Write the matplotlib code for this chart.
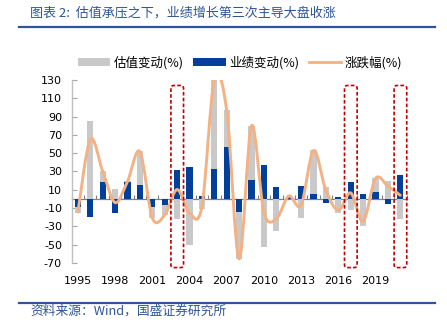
import matplotlib
matplotlib.use("Agg")
import matplotlib.pyplot as plt
from matplotlib.path import Path
from matplotlib.patches import PathPatch, FancyBboxPatch
from matplotlib.lines import Line2D
from matplotlib.patches import Patch
import numpy as np

years = list(range(1995, 2022))
valuation = [-15, 85, 31, 11, 20, 52, -21, -18, -22, -50, -11, 132, 97, -66, 80,
             -52, -35, 1, -21, 53, 13, -15, -12, -30, 23, 20, -22]
earnings = [-9, -20, 18, -15, 18, 15, -9, -7, 32, 35, 3, 33, 57, -14, 21,
            37, 13, 2, 14, 5, -4, 2, 18, 5, 8, -6, 26]
returns = [-14.3, 65.1, 30.2, -4.0, 19.2, 51.7, -20.6, -17.5, 10.3, -15.4, -8.3,
           130.4, 96.7, -65.4, 80.0, -14.3, -21.7, 3.2, -6.7, 52.9, 9.4, -12.3,
           6.6, -24.6, 22.3, 13.9, 4.0]
xtick_years = [1995, 1998, 2001, 2004, 2007, 2010, 2013, 2016, 2019]
yticks = list(range(-70, 131, 20))
highlight_years = [2003, 2017, 2021]

labels = ["估值变动(%)", "业绩变动(%)", "涨跌幅(%)"]
title = "图表 2:  估值承压之下，业绩增长第三次主导大盘收涨"
source = "资料来源：Wind，国盛证券研究所"

C_GREY = "#C9C9C9"
C_BLUE = "#00409A"
C_ORANGE = "#F4B183"
C_RED = "#C00000"
C_HEAD = "#2F5597"
CJK = ["Noto Sans CJK SC", "DejaVu Sans"]

fig = plt.figure(figsize=(4.47, 3.33), dpi=100)
ax = fig.add_axes([0.1604, 0.2102, 0.7490, 0.5496])

x = np.arange(len(years))
ax.bar(x, valuation, width=0.5, color=C_GREY, zorder=2)
ax.bar(x, earnings, width=0.5, color=C_BLUE, zorder=3)

# smooth (Excel-like) line via cubic Bezier segments through the data points
pts = np.column_stack([x, returns]).astype(float)
verts = [tuple(pts[0])]
codes = [Path.MOVETO]
n = len(pts)
for i in range(n - 1):
    p0 = pts[i - 1] if i > 0 else pts[i]
    p1 = pts[i]
    p2 = pts[i + 1]
    p3 = pts[i + 2] if i + 2 < n else pts[i + 1]
    c1 = p1 + (p2 - p0) / 6.0
    c2 = p2 - (p3 - p1) / 6.0
    verts += [tuple(c1), tuple(c2), tuple(p2)]
    codes += [Path.CURVE4] * 3
ax.add_patch(PathPatch(Path(verts, codes), facecolor="none", edgecolor=C_ORANGE,
                       lw=2.1, zorder=4, capstyle="round", joinstyle="round"))

ax.set_xlim(-0.5, len(years) - 0.5)
ax.set_ylim(-70, 130)
ax.set_yticks(yticks)
ax.set_yticklabels([str(v) for v in yticks])
ax.set_xticks([years.index(y) for y in xtick_years])
ax.set_xticklabels([str(y) for y in xtick_years])
ax.tick_params(axis="x", length=0, pad=9.5, labelsize=8, colors="#000000")
ax.tick_params(axis="y", direction="in", length=3.5, width=0.8, color="#A6A6A6",
               pad=7, labelsize=8)
for s in ["top", "right", "bottom"]:
    ax.spines[s].set_visible(False)
ax.spines["left"].set_color("#BFBFBF")
ax.spines["left"].set_linewidth(1.0)

# category axis crossing at zero
zero_frac = (0 - (-70)) / (130 - (-70))
sec = ax.secondary_xaxis(zero_frac)
sec.set_xticks(np.arange(-0.5, len(years), 1.0))
sec.tick_params(direction="in", length=3, width=0.8, color="#808080", labelbottom=False)
sec.spines["bottom"].set_color("#808080")
sec.spines["bottom"].set_linewidth(0.9)

# highlight boxes
px_per_x = 0.7490 * 447 / len(years)
px_per_y = 0.5496 * 333 / 200.0
for hy in highlight_years:
    i = years.index(hy)
    box = FancyBboxPatch((i - 0.5, -75), 1.02, 199,
                         boxstyle="round,pad=0,rounding_size=0.22",
                         mutation_aspect=px_per_x / px_per_y,
                         facecolor="none", edgecolor=C_RED, lw=1.2,
                         linestyle=(0, (2.2, 1.3)), clip_on=False, zorder=5)
    ax.add_patch(box)

# legend
handles = [Patch(facecolor=C_GREY, edgecolor="none"),
           Patch(facecolor=C_BLUE, edgecolor="none"),
           Line2D([0], [0], color=C_ORANGE, lw=2)]
leg = fig.legend(handles, labels, loc="center", bbox_to_anchor=(0.537, 0.811),
                 ncol=3, frameon=False, handlelength=2.6, handleheight=0.6,
                 handletextpad=0.3, columnspacing=0.75,
                 prop={"family": CJK, "size": 9})

# header / footer
fig.text(30 / 447, 1 - 13 / 333, title, family=CJK, fontsize=9.4, color=C_HEAD,
         ha="left", va="center")
fig.add_artist(Line2D([19 / 447, 435 / 447], [1 - 26.5 / 333, 1 - 26.5 / 333],
                      color=C_HEAD, lw=1.6))
fig.add_artist(Line2D([19 / 447, 435 / 447], [1 - 302.5 / 333, 1 - 302.5 / 333],
                      color=C_HEAD, lw=1.6))
fig.text(30 / 447, 1 - 311 / 333, source, family=CJK, fontsize=9.2, color=C_HEAD,
         ha="left", va="center")

fig.savefig("out.png", dpi=100)
